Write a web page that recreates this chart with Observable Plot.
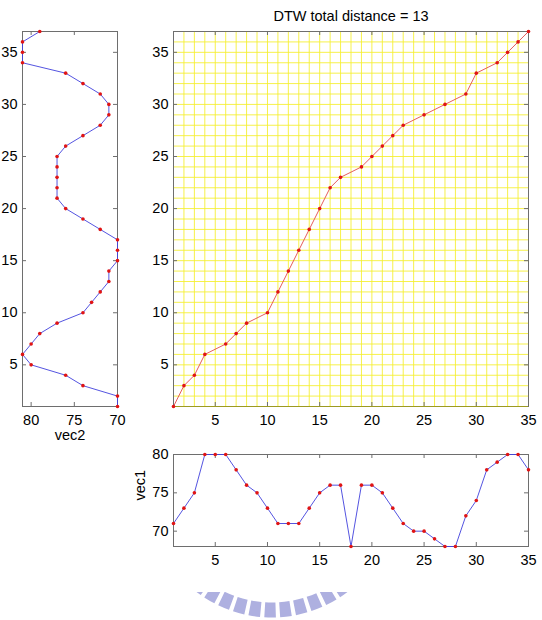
<!DOCTYPE html>
<html><head><meta charset="utf-8">
<script src="https://cdn.jsdelivr.net/npm/d3@7"></script>
<script src="https://cdn.jsdelivr.net/npm/@observablehq/plot@0.6"></script>
<style>
body{margin:0;background:#fff;}
#wrap{position:relative;width:542px;height:620px;overflow:hidden;font-family:"Liberation Sans",Arial,sans-serif;background:#fff;}
#wrap svg{position:absolute;overflow:visible;}
</style></head><body><div id="wrap"></div>
<script>
// ---- data ----
const vec1 = [71,73,75,80,80,80,78,76,75,73,71,71,71,73,75,76,76,68,76,76,75,73,71,70,70,69,68,68,72,74,78,79,80,80,78];
const vec2 = [70,70,74,76,80,81,80,79,77,74,73,72,71,71,70,70,70,72,74,76,77,77,77,77,77,76,74,72,71,71,72,74,76,81,81,81,79];
const pathI = [1,2,3,4,6,7,8,10,11,12,13,14,15,16,17,19,20,21,22,23,25,27,29,30,32,33,34,35];
const pathJ = [1,3,4,6,7,8,9,10,12,14,16,18,20,22,23,24,25,26,27,28,29,30,31,33,34,35,36,37];
const ticksIdx1 = [5,10,15,20,25,30,35];
const ticksIdx2 = [5,10,15,20,25,30,35];
const ticksVec2 = [80,75,70];
const ticksVec1 = [70,75,80];
const titleText = "DTW total distance = 13";
const labelVec1 = "vec1";
const labelVec2 = "vec2";

const d1 = vec1.map((v,i)=>({i:i+1, v}));
const d2 = vec2.map((v,j)=>({j:j+1, v}));
const dp = pathI.map((p,k)=>({i:p, j:pathJ[k]}));

const wrap = document.getElementById("wrap");
const style = {fontFamily:'"Liberation Sans", Arial, sans-serif', fontSize:"14.5px", background:"transparent", overflow:"visible", color:"#000"};
const box = "#6e6e6e", TL = 4;
const blue = "#4141dc", red = "#e01414";
function place(svg, left, top){ svg.style.left = left+"px"; svg.style.top = top+"px"; wrap.appendChild(svg); }
function ticksY(vals, pw){ return [
  Plot.tickY(vals, {y:d=>d, stroke:box, insetRight: pw-TL}),
  Plot.tickY(vals, {y:d=>d, stroke:box, insetLeft: pw-TL})]; }
function ticksX(vals, ph){ return [
  Plot.tickX(vals, {x:d=>d, stroke:box, insetBottom: ph-TL}),
  Plot.tickX(vals, {x:d=>d, stroke:box, insetTop: ph-TL})]; }

// ---- left panel: vec2 ----
{
  const W=140, H=450, ml=22, mr=23, mt=31, mb=44;
  const svg = Plot.plot({
    width:W, height:H, marginLeft:ml, marginRight:mr, marginTop:mt, marginBottom:mb, style,
    x:{domain:[81,70]}, y:{domain:[1,37]},
    marks:[
      Plot.frame({stroke:box}),
      ...ticksY(ticksIdx2, W-ml-mr),
      ...ticksX(ticksVec2, H-mt-mb),
      Plot.line(d2, {x:"v", y:"j", stroke:blue, strokeWidth:0.9}),
      Plot.dot(d2, {x:"v", y:"j", r:1.8, fill:red}),
      Plot.axisY(ticksIdx2, {anchor:"left", tickSize:0, tickPadding:5, label:null}),
      Plot.axisX(ticksVec2, {anchor:"bottom", tickSize:0, tickPadding:8, label:null}),
      Plot.text([labelVec2], {frameAnchor:"bottom", dy:29, lineAnchor:"middle", text:d=>d})
    ]
  });
  place(svg, 0, 0);
}

// ---- main panel: DTW path ----
{
  const W=400, H=450, ml=33, mr=12, mt=31, mb=44;
  const svg = Plot.plot({
    width:W, height:H, marginLeft:ml, marginRight:mr, marginTop:mt, marginBottom:mb, style,
    x:{domain:[1,35]}, y:{domain:[1,37]},
    marks:[
      Plot.ruleX(d3.range(1, vec1.length+1), {stroke:"#f4ee2c", strokeWidth:1, strokeOpacity:0.85}),
      Plot.ruleY(d3.range(1, vec2.length+1), {stroke:"#f4ee2c", strokeWidth:1, strokeOpacity:0.85}),
      Plot.frame({stroke:box}),
      Plot.ruleY([1], {stroke:"#9c9a22", strokeWidth:1.2}),
      ...ticksY(ticksIdx2, W-ml-mr),
      ...ticksX(ticksIdx1, H-mt-mb),
      Plot.line(dp, {x:"i", y:"j", stroke:"#e24a4a", strokeWidth:0.9}),
      Plot.dot(dp, {x:"i", y:"j", r:1.8, fill:red}),
      Plot.axisY(ticksIdx2, {anchor:"left", tickSize:0, tickPadding:5, label:null}),
      Plot.axisX(ticksIdx1, {anchor:"bottom", tickSize:0, tickPadding:8, label:null}),
      Plot.text([titleText], {frameAnchor:"top", dy:-15, lineAnchor:"middle", text:d=>d})
    ]
  });
  place(svg, 140, 0);
}

// ---- bottom panel: vec1 ----
{
  const W=400, H=156, ml=33, mr=12, mt=34, mb=30;
  const svg = Plot.plot({
    width:W, height:H, marginLeft:ml, marginRight:mr, marginTop:mt, marginBottom:mb, style,
    x:{domain:[1,35]}, y:{domain:[68,80]},
    marks:[
      Plot.frame({stroke:box}),
      ...ticksY(ticksVec1, W-ml-mr),
      ...ticksX(ticksIdx1, H-mt-mb),
      Plot.line(d1, {x:"i", y:"v", stroke:blue, strokeWidth:0.9}),
      Plot.dot(d1, {x:"i", y:"v", r:1.8, fill:red}),
      Plot.axisY(ticksVec1, {anchor:"left", tickSize:0, tickPadding:5, label:null}),
      Plot.axisX(ticksIdx1, {anchor:"bottom", tickSize:0, tickPadding:8, label:null}),
      Plot.text([labelVec1], {frameAnchor:"left", dx:-33, rotate:-90, lineAnchor:"middle", text:d=>d})
    ]
  });
  place(svg, 140, 420);
}

// ---- faint watermark decoration (not data) ----
{
  const ns = "http://www.w3.org/2000/svg";
  const s = document.createElementNS(ns, "svg");
  s.setAttribute("width", 542); s.setAttribute("height", 620);
  s.style.left = "0px"; s.style.top = "0px"; s.style.pointerEvents = "none";
  s.innerHTML = `<defs><clipPath id="wm"><rect x="0" y="592" width="542" height="28"/></clipPath></defs>
  <g clip-path="url(#wm)"><circle cx="272" cy="493" r="117" fill="none" stroke="#aeb0e0" stroke-width="15" stroke-dasharray="11 4"/></g>`;
  wrap.appendChild(s);
}
</script></body></html>
